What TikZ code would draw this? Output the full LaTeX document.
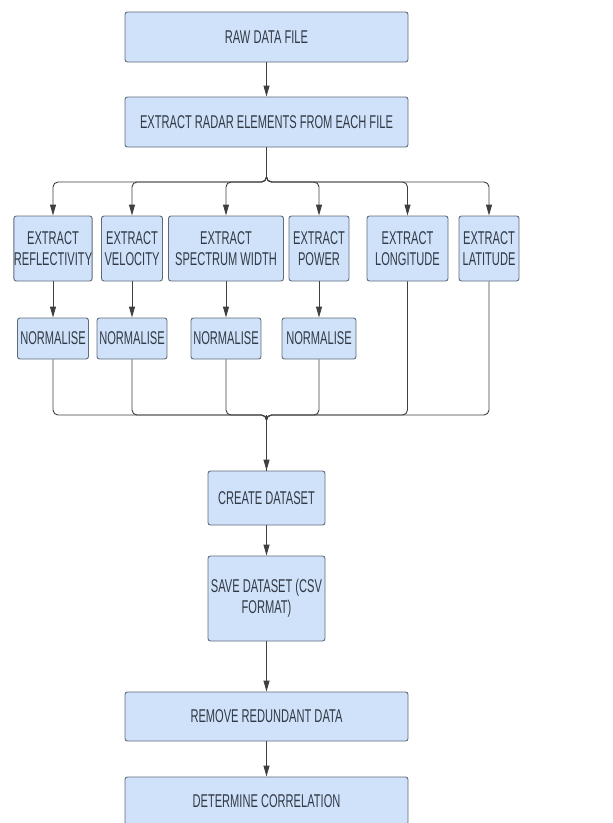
\documentclass[tikz,border=0pt]{standalone}
\usepackage{fontspec}
\setmainfont[FakeStretch=0.6]{Liberation Sans}
\usetikzlibrary{arrows.meta}
\definecolor{boxfill}{HTML}{CFE2FA}
\definecolor{boxline}{HTML}{5F6B7A}
\definecolor{boxtext}{HTML}{333A46}
\definecolor{wire}{HTML}{3F3F3F}

\tikzset{
  stepbox/.style={draw=boxline, fill=boxfill, text=boxtext, line width=0.9pt,
    rounded corners=2.5pt, align=center, inner sep=0pt,
    font=\fontsize{18.5}{21}\selectfont},
  conn/.style={draw=wire, line width=0.9pt, rounded corners=5pt,
    -{Triangle[length=11pt,width=6pt]}},
  joint/.style={draw=wire, line width=0.9pt, rounded corners=5pt}
}

\begin{document}
\begin{tikzpicture}[x=1pt, y=-1pt]
  \useasboundingbox (0,0) rectangle (613,823);
  % main column
  \node[stepbox, minimum width=283, minimum height=50] (raw) at (266.5,37) {RAW DATA FILE};
  \node[stepbox, minimum width=283, minimum height=50] (radar) at (266.5,122) {EXTRACT RADAR ELEMENTS FROM EACH FILE};
  % one box per radar element
  \begin{scope}[every node/.style={stepbox, minimum height=65}]
    \node[minimum width=78] (refl) at (53,248.5) {EXTRACT\\REFLECTIVITY};
    \node[minimum width=61] (velo) at (132,248.5) {EXTRACT\\VELOCITY};
    \node[minimum width=115] (spec) at (226,248.5) {EXTRACT\\SPECTRUM WIDTH};
    \node[minimum width=60] (powr) at (319,248.5) {EXTRACT\\POWER};
    \node[minimum width=81] (long) at (407.5,248.5) {EXTRACT\\LONGITUDE};
    \node[minimum width=60] (lati) at (489,248.5) {EXTRACT\\LATITUDE};
  \end{scope}
  \begin{scope}[every node/.style={stepbox, minimum height=41}]
    \node[minimum width=71] (norm1) at (53,338.5) {NORMALISE};
    \node[minimum width=70] (norm2) at (132,338.5) {NORMALISE};
    \node[minimum width=70] (norm3) at (226,338.5) {NORMALISE};
    \node[minimum width=74] (norm4) at (319,338.5) {NORMALISE};
  \end{scope}
  \node[stepbox, minimum width=117, minimum height=54] (create) at (266.5,498) {CREATE DATASET};
  \node[stepbox, minimum width=117, minimum height=85] (save) at (266.5,598.5) {SAVE DATASET (CSV\\FORMAT)};
  \node[stepbox, minimum width=283, minimum height=49] (redund) at (266.5,716.5) {REMOVE REDUNDANT DATA};
  \node[stepbox, minimum width=283, minimum height=48] (correl) at (266.5,801) {DETERMINE CORRELATION};
  % split and merge buses
  \coordinate (split) at (266.5,182);
  \coordinate (merge) at (266.5,415);
  \draw[conn] (raw) -- (radar);
  \foreach \n in {refl,velo,spec,powr,long,lati}
    \draw[conn] (radar.south) -- (split) -| (\n.north);
  \foreach \a/\b in {refl/norm1,velo/norm2,spec/norm3,powr/norm4}
    \draw[conn] (\a) -- (\b);
  \foreach \n in {norm1,norm2,norm3,norm4,long,lati}
    \draw[joint] (\n.south) |- (merge) -- (create.north);
  \draw[conn] (merge) -- (create.north);
  \draw[conn] (create) -- (save);
  \draw[conn] (save) -- (redund);
  \draw[conn] (redund) -- (correl);
\end{tikzpicture}
\end{document}
